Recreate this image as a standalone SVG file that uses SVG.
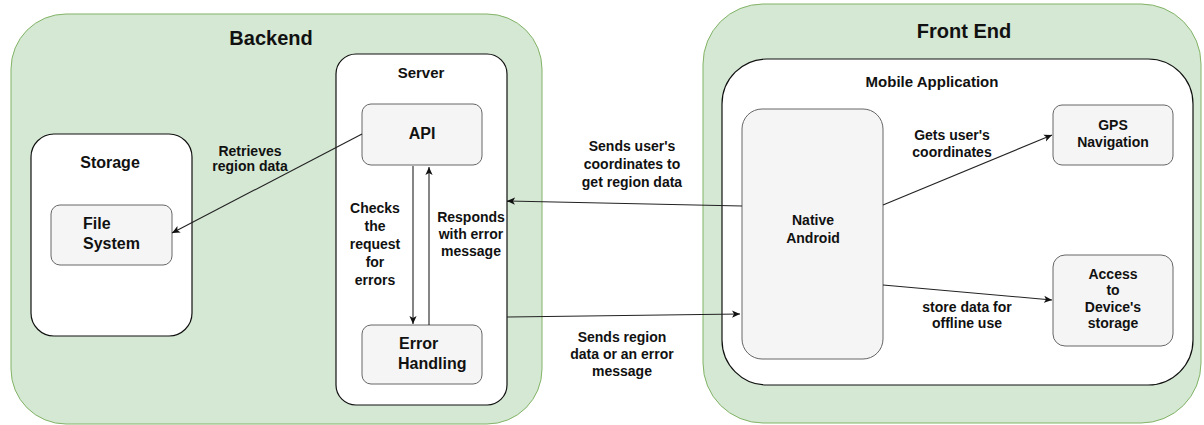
<svg xmlns="http://www.w3.org/2000/svg" width="1204" height="425" viewBox="0 0 1204 425">
<defs>
<marker id="arr" viewBox="0 0 10 10" refX="10" refY="5" markerWidth="8" markerHeight="8" markerUnits="userSpaceOnUse" orient="auto">
<path d="M0,0.5 L10,5 L0,9.5 L2.5,5 Z" fill="#111"/>
</marker>
<style>
.grp{fill:#d5e8d4;stroke:#82b366;stroke-width:1}
.box{fill:#ffffff;stroke:#111;stroke-width:1.2}
.node{fill:#f5f5f5;stroke:#666;stroke-width:1}
text{font-family:"Liberation Sans",Arial,sans-serif;font-weight:bold;fill:#111}
.big{font-size:20px}
.t15{font-size:15px}
.t16{font-size:16px}
.t14{font-size:14px}
.mid{text-anchor:middle}
.edge{fill:none;stroke:#222;stroke-width:1.1}
</style>
</defs>
<g id="backend">
<rect class="grp" x="11" y="14" width="531" height="410" rx="55" ry="55"/>
<text class="big mid" x="271" y="45">Backend</text>
</g>
<g id="frontend">
<rect class="grp" x="703" y="4" width="498" height="419" rx="60" ry="60"/>
<text class="big mid" x="964" y="38">Front End</text>
</g>
<g id="server">
<rect class="box" x="336" y="54" width="171" height="351" rx="20" ry="20"/>
<text class="t15 mid" x="421" y="78">Server</text>
</g>
<g id="storage">
<rect class="box" x="31" y="134" width="161" height="202" rx="23" ry="23"/>
<text class="t16 mid" x="110" y="168">Storage</text>
</g>
<g id="mobile">
<rect class="box" x="722" y="59" width="471" height="326" rx="45" ry="45"/>
<text class="t15 mid" x="932" y="87">Mobile Application</text>
</g>
<g id="api">
<rect class="node" x="362" y="104" width="120" height="61" rx="9" ry="9"/>
<text class="t16 mid" x="422" y="139">API</text>
</g>
<g id="filesystem">
<rect class="node" x="51" y="205" width="121" height="60" rx="9" ry="9"/>
<text class="t16" x="83" y="229">File</text>
<text class="t16" x="83" y="249">System</text>
</g>
<g id="errorhandling">
<rect class="node" x="362" y="325" width="120" height="59" rx="9" ry="9"/>
<text class="t16" x="399" y="349">Error</text>
<text class="t16" x="398" y="369">Handling</text>
</g>
<g id="native">
<rect class="node" x="742" y="109" width="141" height="250" rx="20" ry="20"/>
<text class="t14 mid" x="813" y="225">Native</text>
<text class="t14 mid" x="813" y="243">Android</text>
</g>
<g id="gps">
<rect class="node" x="1053" y="105" width="120" height="60" rx="9" ry="9"/>
<text class="t14 mid" x="1113" y="130">GPS</text>
<text class="t14 mid" x="1113" y="147">Navigation</text>
</g>
<g id="access">
<rect class="node" x="1053" y="255" width="120" height="91" rx="12" ry="12"/>
<text class="t14 mid" x="1113" y="279">Access</text>
<text class="t14 mid" x="1113" y="295">to</text>
<text class="t14 mid" x="1113" y="312">Device's</text>
<text class="t14 mid" x="1113" y="328">storage</text>
</g>
<g id="connectors">
<line class="edge" x1="362" y1="134" x2="172" y2="233" marker-end="url(#arr)"/>
<line class="edge" x1="413" y1="166" x2="413" y2="324" marker-end="url(#arr)"/>
<line class="edge" x1="429" y1="325" x2="429" y2="167" marker-end="url(#arr)"/>
<line class="edge" x1="742" y1="206" x2="507" y2="201" marker-end="url(#arr)"/>
<line class="edge" x1="507" y1="317" x2="740" y2="314" marker-end="url(#arr)"/>
<line class="edge" x1="883" y1="205" x2="1052" y2="135" marker-end="url(#arr)"/>
<line class="edge" x1="883" y1="285" x2="1052" y2="300" marker-end="url(#arr)"/>
<g class="t14">
<text class="t14 mid" x="250" y="156">Retrieves</text>
<text class="t14 mid" x="250" y="171">region data</text>
<text class="t14 mid" x="375" y="213">Checks</text>
<text class="t14 mid" x="375" y="231">the</text>
<text class="t14 mid" x="375" y="249">request</text>
<text class="t14 mid" x="375" y="267">for</text>
<text class="t14 mid" x="375" y="285">errors</text>
<text class="t14 mid" x="471" y="222">Responds</text>
<text class="t14 mid" x="471" y="239">with error</text>
<text class="t14 mid" x="471" y="256">message</text>
<text class="t14 mid" x="632" y="151">Sends user's</text>
<text class="t14 mid" x="632" y="169">coordinates to</text>
<text class="t14 mid" x="632" y="187">get region data</text>
<text class="t14 mid" x="622" y="342">Sends region</text>
<text class="t14 mid" x="622" y="359">data or an error</text>
<text class="t14 mid" x="622" y="376">message</text>
<text class="t14 mid" x="952" y="140">Gets user's</text>
<text class="t14 mid" x="952" y="157">coordinates</text>
<text class="t14 mid" x="967" y="312">store data for</text>
<text class="t14 mid" x="967" y="328">offline use</text>
</g>
</g>
</svg>
